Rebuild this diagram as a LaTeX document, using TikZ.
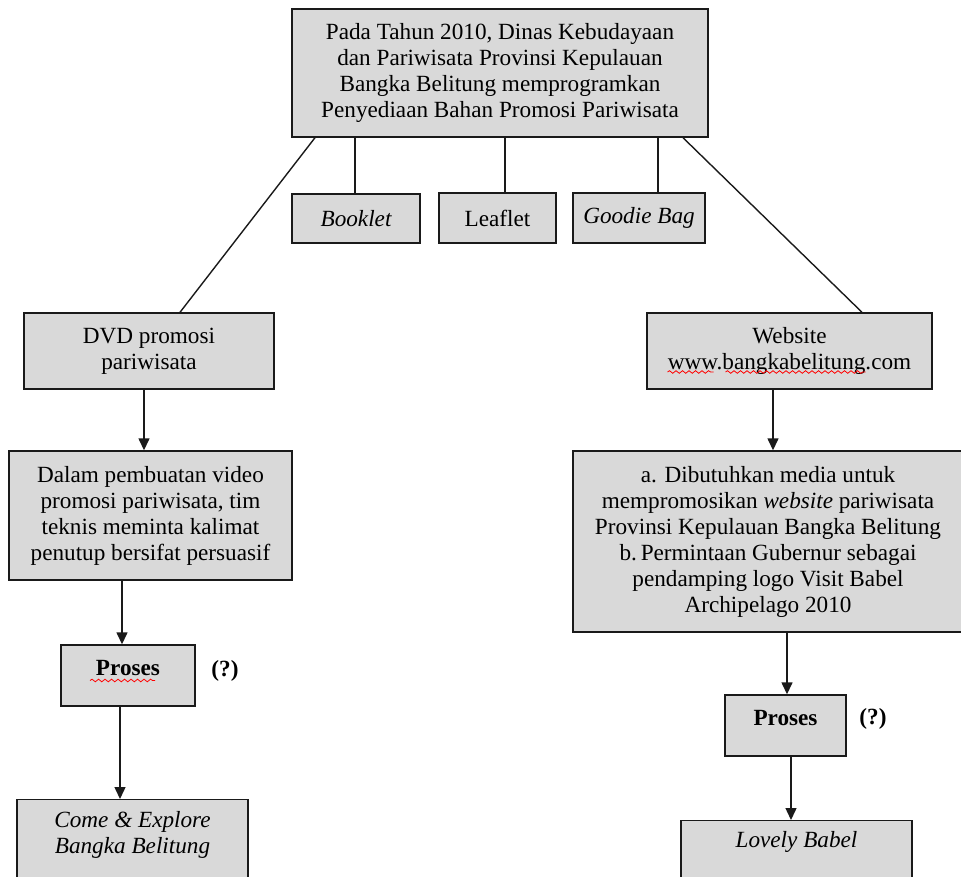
\documentclass[tikz,border=0pt]{standalone}
\usepackage{fontspec}
\setmainfont{Liberation Serif}
\usetikzlibrary{arrows.meta,decorations.pathmorphing}
\definecolor{boxfill}{HTML}{D9D9D9}
\definecolor{boxline}{HTML}{1A1A1A}
\tikzset{
  box/.style={draw=boxline, fill=boxfill, line width=1.4pt, inner sep=0pt, align=center,
    font=\fontsize{23.2}{26}\selectfont},
  conn/.style={draw=boxline, line width=1.4pt},
  arr/.style={conn, -{Triangle[width=11pt,length=12pt]}},
  qmark/.style={font=\fontsize{23.2}{26}\selectfont\bfseries},
  squig/.style={draw=red, line width=0.8pt, decorate,
    decoration={snake, segment length=6.5pt, amplitude=1.3pt}}
}
\newcommand\liftup[1]{\raisebox{7pt}[\height][\depth]{#1}}
\begin{document}
\begin{tikzpicture}[x=1pt,y=-1pt]
\useasboundingbox (0,0) rectangle (961,877);
\clip (0,0) rectangle (961,877);
% top box
\node[box, minimum width=416, minimum height=128] (top) at (500,73)
  {Pada Tahun 2010, Dinas Kebudayaan\\ dan Pariwisata Provinsi Kepulauan\\ Bangka Belitung memprogramkan\\ Penyediaan Bahan Promosi Pariwisata};
% three small boxes
\node[box, minimum width=128, minimum height=49] (booklet) at (356,218.5) {\itshape Booklet};
\node[box, minimum width=117, minimum height=50] (leaflet) at (497.5,218) {Leaflet};
\node[box, minimum width=132, minimum height=50] (goodie) at (639,218) {\itshape Goodie Bag};
% left branch
\node[box, minimum width=250, minimum height=76] (dvd) at (149,351) {DVD promosi\\ pariwisata};
\node[box, minimum width=283, minimum height=129] (dalam) at (150.5,515.5)
  {Dalam pembuatan video\\ promosi pariwisata, tim\\ teknis meminta kalimat\\ penutup bersifat persuasif};
\node[box, minimum width=134, minimum height=61] (pl) at (128,675.5) {\liftup{\bfseries Proses}};
\node[qmark] (ql) at (225,671) {(?)};
\node[box, anchor=north, minimum width=231, inner ysep=12pt] (come) at (132.5,799)
  {\itshape Come \& Explore\\ \itshape Bangka Belitung\\[40pt] };
% right branch
\node[box, minimum width=285, minimum height=76] (web) at (789.5,351) {Website\\ www.bangkabelitung.com};
\node[box, minimum width=390, minimum height=181] (abox) at (768,541.5)
  {a. Dibutuhkan media untuk\\ mempromosikan \textit{website} pariwisata\\ Provinsi Kepulauan Bangka Belitung\\ b.\,Permintaan Gubernur sebagai\\ pendamping logo Visit Babel\\ Archipelago 2010};
\node[box, minimum width=121, minimum height=61] (pr) at (785.5,725.5) {\liftup{\bfseries Proses}};
\node[qmark] (qr) at (873,719) {(?)};
\node[box, anchor=north, minimum width=231, inner ysep=11pt] (lovely) at (796.5,820)
  {\itshape Lovely Babel\\[50pt] };
% connectors from top box
\coordinate (tl) at ([xshift=-185pt]top.south);
\coordinate (tr) at ([xshift=183pt]top.south);
\draw[conn] (tl) -- ([xshift=31pt]dvd.north);
\draw[conn] (tr) -- ([xshift=72.5pt]web.north);
\coordinate (cb) at ([xshift=-1pt]booklet.north);
\coordinate (cl) at ([xshift=7.5pt]leaflet.north);
\coordinate (cg) at ([xshift=19pt]goodie.north);
\draw[conn] (cb) -- (cb |- top.south);
\draw[conn] (cl) -- (cl |- top.south);
\draw[conn] (cg) -- (cg |- top.south);
% arrows left
\coordinate (a1) at ([xshift=-5pt]dvd.south);
\draw[arr] (a1) -- (a1 |- dalam.north);
\coordinate (a2) at ([xshift=-6pt]pl.north);
\draw[arr] (a2 |- dalam.south) -- (a2);
\coordinate (a3) at ([xshift=-8pt]pl.south);
\draw[arr] (a3) -- (a3 |- come.north);
% arrows right
\coordinate (b1) at ([xshift=-16.5pt]web.south);
\draw[arr] (b1) -- (b1 |- abox.north);
\coordinate (b2) at ([xshift=1.5pt]pr.north);
\draw[arr] (b2 |- abox.south) -- (b2);
\coordinate (b3) at ([xshift=5.5pt]pr.south);
\draw[arr] (b3) -- (b3 |- lovely.north);
% spell-check squiggles
\draw[squig] ([xshift=-38pt,yshift=-5pt]pl.center) -- ++(65,0);
\draw[squig] ([xshift=-122pt,yshift=-21pt]web.center) -- ++(46,0);
\draw[squig] ([xshift=-64pt,yshift=-21pt]web.center) -- ++(140,0);
\end{tikzpicture}
\end{document}
